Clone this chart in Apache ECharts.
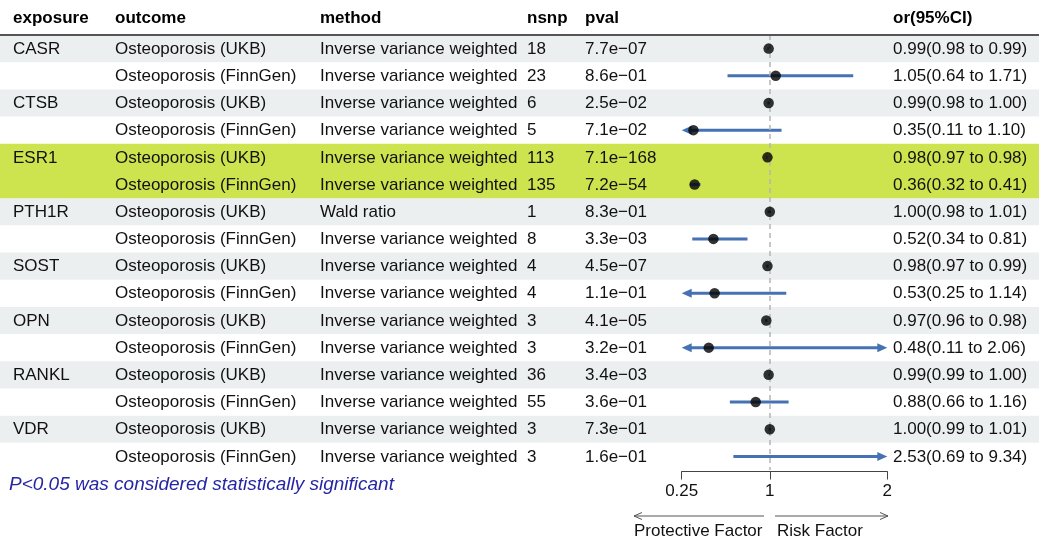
<!DOCTYPE html>
<html><head><meta charset="utf-8">
<script src="https://cdn.jsdelivr.net/npm/echarts@6/dist/echarts.min.js"></script>
<style>html,body{margin:0;padding:0;background:#fff}#c{width:1039px;height:538px}</style>
</head><body><div id="c"></div>
<script>
// ---------- data ----------
const exposures = ['CASR','','CTSB','','ESR1','','PTH1R','','SOST','','OPN','','RANKL','','VDR',''];
const outcomes = ['Osteoporosis (UKB)','Osteoporosis (FinnGen)','Osteoporosis (UKB)','Osteoporosis (FinnGen)',
  'Osteoporosis (UKB)','Osteoporosis (FinnGen)','Osteoporosis (UKB)','Osteoporosis (FinnGen)',
  'Osteoporosis (UKB)','Osteoporosis (FinnGen)','Osteoporosis (UKB)','Osteoporosis (FinnGen)',
  'Osteoporosis (UKB)','Osteoporosis (FinnGen)','Osteoporosis (UKB)','Osteoporosis (FinnGen)'];
const IVW = 'Inverse variance weighted';
const methods = [IVW,IVW,IVW,IVW,IVW,IVW,'Wald ratio',IVW,IVW,IVW,IVW,IVW,IVW,IVW,IVW,IVW];
const nsnp = [18,23,6,5,113,135,1,8,4,4,3,3,36,55,3,3];
const pvals = ['7.7e\u221207','8.6e\u221201','2.5e\u221202','7.1e\u221202','7.1e\u2212168','7.2e\u221254','8.3e\u221201','3.3e\u221203',
  '4.5e\u221207','1.1e\u221201','4.1e\u221205','3.2e\u221201','3.4e\u221203','3.6e\u221201','7.3e\u221201','1.6e\u221201'];
const orValues = [0.99,1.05,0.99,0.35,0.98,0.36,1.00,0.52,0.98,0.53,0.97,0.48,0.99,0.88,1.00,2.53];
const ciLower  = [0.98,0.64,0.98,0.11,0.97,0.32,0.98,0.34,0.97,0.249,0.96,0.11,0.99,0.66,0.99,0.69];
const ciUpper  = [0.99,1.71,1.00,1.10,0.98,0.41,1.01,0.81,0.99,1.14,0.98,2.06,1.00,1.16,1.01,9.34];
const highlightRows = [4,5];
const headers = ['exposure','outcome','method','nsnp','pval','or(95%CI)'];
const xTicks = [0.25, 1, 2];
const xMin = 0.25, xMax = 2;
const footnote = 'P<0.05 was considered statistically significant';
const leftLabel = 'Protective Factor', rightLabel = 'Risk Factor';

// ---------- layout ----------
const FONT = '"Liberation Sans", Arial, Helvetica, sans-serif';
const FS = 17;
const colX = [13, 115, 320, 527, 585, 893];
const GRID_TOP = 35, GRID_H = 435;
const rowIdx = orValues.map((_, i) => i);
const orText = orValues.map((v, i) => v.toFixed(2) + '(' + ciLower[i].toFixed(2) + ' to ' + ciUpper[i].toFixed(2) + ')');
const BLUE = '#4672b4';
const TEXT = '#111';

const chart = echarts.init(document.getElementById('c'), null, {renderer: 'canvas'});

const graphics = [];
headers.forEach((h, k) => graphics.push({type: 'text', left: colX[k], top: 10,
  style: {text: h, font: 'bold ' + FS + 'px ' + FONT, fill: '#000'}}));
graphics.push({type: 'line', shape: {x1: 0, y1: GRID_TOP, x2: 1039, y2: GRID_TOP},
  style: {stroke: '#555', lineWidth: 2}, z: 20});
graphics.push({type: 'text', left: 9, top: 475,
  style: {text: footnote, font: 'italic 19px ' + FONT, fill: '#2626a4'}});
// bottom direction arrows
const AY = 516;
graphics.push({type: 'polyline', shape: {points: [[764, AY], [634, AY]]}, style: {stroke: '#555', lineWidth: 1}});
graphics.push({type: 'polyline', shape: {points: [[642, AY - 3.5], [634, AY], [642, AY + 3.5]]}, style: {stroke: '#555', lineWidth: 1, fill: null}});
graphics.push({type: 'polyline', shape: {points: [[775, AY], [888, AY]]}, style: {stroke: '#555', lineWidth: 1}});
graphics.push({type: 'polyline', shape: {points: [[880, AY - 3.5], [888, AY], [880, AY + 3.5]]}, style: {stroke: '#555', lineWidth: 1, fill: null}});
graphics.push({type: 'text', left: 634, top: 523, style: {text: leftLabel, font: FS + 'px ' + FONT, fill: TEXT}});
graphics.push({type: 'text', left: 777, top: 523, style: {text: rightLabel, font: FS + 'px ' + FONT, fill: TEXT}});

const option = {
  animation: false,
  backgroundColor: '#fff',
  grid: [
    {left: 0, width: 1039, top: GRID_TOP, height: GRID_H},
    {left: 681.7, width: 205.6, top: GRID_TOP, height: GRID_H}
  ],
  xAxis: [
    {gridIndex: 0, type: 'value', min: 0, max: 1039, show: false},
    {gridIndex: 1, type: 'value', min: xMin, max: xMax, position: 'bottom', offset: 1.5,
      axisLine: {show: true, lineStyle: {color: '#444', width: 1}},
      axisTick: {show: true, inside: false, length: 8, lineStyle: {color: '#444', width: 1}, customValues: xTicks},
      axisLabel: {show: true, customValues: xTicks, margin: 11, color: TEXT, fontSize: FS, fontFamily: FONT,
        formatter: v => String(v)},
      splitLine: {show: false}}
  ],
  yAxis: [
    {gridIndex: 0, type: 'category', data: rowIdx, inverse: true, show: false},
    {gridIndex: 1, type: 'category', data: rowIdx, inverse: true, show: false}
  ],
  graphic: graphics,
  series: [
    { // row backgrounds
      type: 'custom', xAxisIndex: 0, yAxisIndex: 0, silent: true, z: 0,
      data: rowIdx.map(i => [0, i]),
      renderItem: (params, api) => {
        const i = params.dataIndex;
        const y = api.coord([0, i])[1];
        const h = api.size([0, 1])[1];
        let fill = i % 2 === 0 ? '#eceff0' : '#ffffff';
        if (highlightRows.includes(i)) fill = '#cde44f';
        return {type: 'rect', shape: {x: 0, y: y - h / 2, width: 1039, height: h + 0.5}, style: {fill}};
      }
    },
    { // text cells
      type: 'custom', xAxisIndex: 0, yAxisIndex: 0, silent: true, z: 3,
      data: rowIdx.map(i => [0, i]),
      renderItem: (params, api) => {
        const i = params.dataIndex;
        const y = api.coord([0, i])[1] + 0.5;
        const cells = [exposures[i], outcomes[i], methods[i], String(nsnp[i]), pvals[i], orText[i]];
        return {type: 'group', children: cells.map((t, k) => ({
          type: 'text', x: colX[k], y: y,
          style: {text: t, font: FS + 'px ' + FONT, fill: TEXT, verticalAlign: 'middle', align: 'left'}
        }))};
      }
    },
    { // CI lines with arrows
      type: 'custom', xAxisIndex: 1, yAxisIndex: 1, silent: true, z: 4, clip: false,
      data: rowIdx.map(i => [ciLower[i], ciUpper[i], i]),
      encode: {x: [0, 1], y: 2},
      renderItem: (params, api) => {
        const i = params.dataIndex;
        const lo = Math.max(ciLower[i], xMin), hi = Math.min(ciUpper[i], xMax);
        const p0 = api.coord([lo, i]), p1 = api.coord([hi, i]);
        const y = p0[1];
        const children = [];
        let x0 = p0[0], x1 = p1[0];
        const AL = 10, AW = 4.5;
        if (ciLower[i] < xMin) {
          children.push({type: 'polygon', shape: {points: [[x0, y], [x0 + AL, y - AW], [x0 + AL, y + AW]]}, style: {fill: BLUE}});
          x0 += AL - 1;
        }
        if (ciUpper[i] > xMax) {
          children.push({type: 'polygon', shape: {points: [[x1, y], [x1 - AL, y - AW], [x1 - AL, y + AW]]}, style: {fill: BLUE}});
          x1 -= AL - 1;
        }
        children.push({type: 'line', shape: {x1: x0, y1: y, x2: x1, y2: y}, style: {stroke: BLUE, lineWidth: 3}});
        return {type: 'group', children};
      }
    },
    { // point estimates
      type: 'scatter', xAxisIndex: 1, yAxisIndex: 1, silent: true, z: 5, clip: true,
      symbol: 'circle', symbolSize: 10.5,
      itemStyle: {color: '#000'},
      data: rowIdx.map(i => [orValues[i], i])
    },
    { // reference line at 1
      type: 'scatter', xAxisIndex: 1, yAxisIndex: 1, silent: true, z: 6, data: [],
      markLine: {silent: true, symbol: 'none', animation: false, label: {show: false},
        lineStyle: {type: [5, 4], color: '#b5b5b5', width: 1.5},
        data: [{xAxis: 1}]}
    }
  ]
};
chart.setOption(option);
</script>
</body></html>
